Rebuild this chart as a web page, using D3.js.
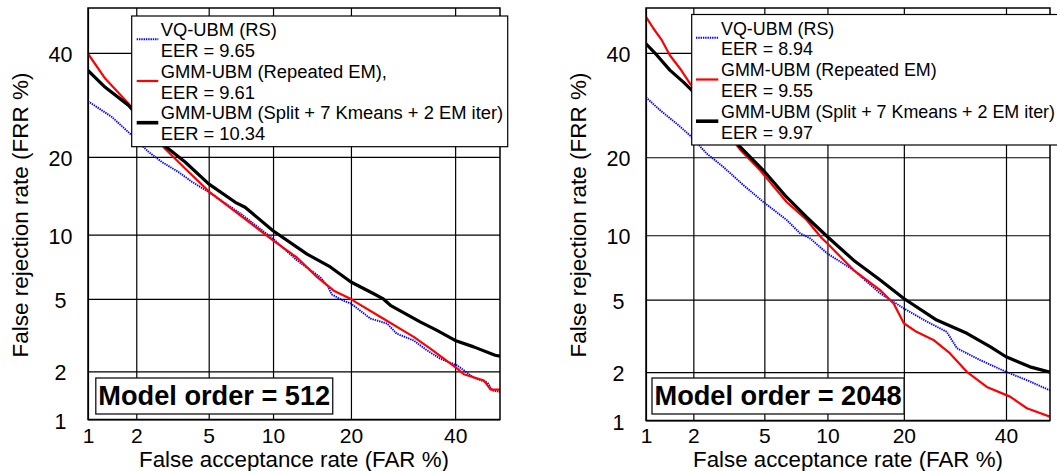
<!DOCTYPE html>
<html>
<head>
<meta charset="utf-8">
<script src="https://cdn.jsdelivr.net/npm/d3@7"></script>
<style>
  html, body { margin: 0; padding: 0; background: #fff; }
  svg { display: block; font-family: "Liberation Sans", Arial, Helvetica, sans-serif; }
</style>
</head>
<body>
<svg id="chart" width="1057" height="471"></svg>
<script>
// ---------------- DATA (percent values: [FAR %, FRR %]) ----------------
const tickValues = [1, 2, 5, 10, 20, 40];
const tickLabels = ["1", "2", "5", "10", "20", "40"];
const axisMin = 1, axisMax = 50;

const xTitle = "False acceptance rate (FAR %)";
const yTitle = "False rejection rate (FRR %)";
const panelTitles = ["Model order = 512", "Model order = 2048"];

const seriesNames512 = ["VQ-UBM (RS)", "GMM-UBM (Repeated EM),", "GMM-UBM (Split + 7 Kmeans + 2 EM iter)"];
const seriesNames2048 = ["VQ-UBM (RS)", "GMM-UBM (Repeated EM)", "GMM-UBM (Split + 7 Kmeans + 2 EM iter)"];
const eer512 = [9.65, 9.61, 10.34];
const eer2048 = [8.94, 9.55, 9.97];

const vq512 = [[1.0,29.9],[1.42,26.9],[1.83,23.9],[2.36,20.8],[2.81,19.2],[3.47,17.7],[4.09,16.3],[5.0,14.9],[7.2,12.2],[10,9.6],[12.6,7.67],[15.5,6.41],[16.6,5.74],[17.1,5.27],[18.8,4.9],[20,4.74],[23.2,3.96],[24.3,3.87],[26.2,3.72],[28,3.28],[31.3,3.01],[34,2.65],[36.8,2.37],[40.4,2.17],[44.1,1.83],[47.2,1.71],[48.3,1.53],[50,1.5]];
const rem512 = [[1.0,39.8],[1.29,34.5],[1.8,29.4],[2.93,21.3],[3.77,18.2],[5.0,15.0],[7.0,12.2],[10,9.45],[12.6,7.9],[15.1,6.41],[17.4,5.5],[20,5.0],[20.7,4.83],[25,4.03],[31.3,3.15],[34.7,2.71],[40.4,2.08],[41.9,1.92],[46.4,1.76],[47.9,1.55],[50,1.55]];
const split512 = [[1.0,36.2],[1.29,32.7],[1.8,29.1],[2.81,22.2],[3.77,19.2],[5.0,16.0],[6.75,13.6],[7.5,13.0],[10,10.4],[13.8,8.2],[16.9,7.16],[20,6.07],[23.8,5.31],[25.5,5.0],[26.8,4.64],[32.6,3.8],[36.1,3.42],[40,3.01],[44.1,2.77],[48.9,2.48],[50,2.45]];

const vq2048 = [[1.0,30.7],[1.24,28.2],[1.58,25.7],[1.91,23.6],[2.4,20.6],[3.0,18.5],[3.87,15.9],[4.94,13.7],[6.47,11.6],[7.5,10.2],[8.35,9.7],[10,8.3],[12.9,6.97],[16.4,5.38],[20,4.51],[23.9,3.85],[27.6,3.39],[29.6,2.75],[34.3,2.36],[40,2.01],[45.4,1.76],[50,1.55]];
const rem2048 = [[1.0,48.0],[1.12,45.4],[1.27,42.8],[1.43,39.5],[1.66,36.6],[1.91,33.5],[3.7,21.3],[4.75,18.0],[6.47,13.7],[8.06,11.6],[9.45,9.7],[10,9.2],[12.9,6.97],[16.4,5.58],[18.4,4.78],[20,3.77],[22.1,3.39],[25.1,3.06],[28.2,2.58],[31.6,2.01],[35.8,1.63],[40.9,1.42],[44.7,1.2],[50,1.06]];
const split2048 = [[1.0,42.0],[1.18,39.5],[1.43,36.3],[1.74,33.8],[1.96,32.1],[3.71,21.7],[4.94,18.0],[6.47,14.3],[8.06,11.9],[10,9.85],[12.9,7.75],[16.4,6.25],[20,5.07],[25.7,3.92],[31.6,3.33],[36.5,2.81],[40,2.46],[45.4,2.15],[50,2.0]];

// ---------------- helpers ----------------
// inverse standard normal CDF (Acklam) for the DET (normal deviate) scale
function probit(p) {
  const a=[-3.969683028665376e+01,2.209460984245205e+02,-2.759285104469687e+02,1.383577518672690e+02,-3.066479806614716e+01,2.506628277459239e+00];
  const b=[-5.447609879822406e+01,1.615858368580409e+02,-1.556989798598866e+02,6.680131188771972e+01,-1.328068155288572e+01];
  const c=[-7.784894002430293e-03,-3.223964580411365e-01,-2.400758277161838e+00,-2.549671323240000e+00,4.374664141464968e+00,2.938163982698783e+00];
  const d=[7.784695709041462e-03,3.224671290700398e-01,2.445134137142996e+00,3.754408661907416e+00];
  const pl = 0.02425, ph = 1 - pl;
  let q, r;
  if (p < pl) { q = Math.sqrt(-2*Math.log(p)); return (((((c[0]*q+c[1])*q+c[2])*q+c[3])*q+c[4])*q+c[5])/((((d[0]*q+d[1])*q+d[2])*q+d[3])*q+1); }
  if (p <= ph) { q = p - 0.5; r = q*q; return (((((a[0]*r+a[1])*r+a[2])*r+a[3])*r+a[4])*r+a[5])*q/(((((b[0]*r+b[1])*r+b[2])*r+b[3])*r+b[4])*r+1); }
  q = Math.sqrt(-2*Math.log(1-p)); return -(((((c[0]*q+c[1])*q+c[2])*q+c[3])*q+c[4])*q+c[5])/((((d[0]*q+d[1])*q+d[2])*q+d[3])*q+1);
}
const pz = v => probit(v / 100);

const styles = [
  { color: "#0000ff", width: 1.9, dash: "1.4,0.9", legW: 1.9 },
  { color: "#ff0000", width: 2.2, dash: null, legW: 2.2 },
  { color: "#000000", width: 3.2, dash: null, legW: 3.6 }
];

const panels = [
  { curves: [vq512, rem512, split512], names: seriesNames512, eers: eer512, title: panelTitles[0],
    x0: 88, x1: 500, y0: 8, y1: 419.5, legX: 131.7, legY: 16, legW: 376, legH: 130.7, legFont: 18.35,
    sampleX0: 136.7, sampleX1: 158.3, legTextX: 160.7, boxTextX: 98.3, yLabX: 60.5, yTitleX: 27.5 },
  { curves: [vq2048, rem2048, split2048], names: seriesNames2048, eers: eer2048, title: panelTitles[1],
    x0: 646, x1: 1050, y0: 8, y1: 420.5, legX: 691.7, legY: 14.5, legW: 380, legH: 130.5, legFont: 17.9,
    sampleX0: 696, sampleX1: 718.3, legTextX: 721, boxTextX: 654.5, yLabX: 618.5, yTitleX: 585.5 }
];

const svg = d3.select("#chart");
svg.append("rect").attr("width", 1057).attr("height", 471).attr("fill", "#fff");

panels.forEach((P, pi) => {
  const xs = d3.scaleLinear().domain([pz(axisMin), pz(axisMax)]).range([P.x0, P.x1]);
  const ys = d3.scaleLinear().domain([pz(axisMin), pz(axisMax)]).range([P.y1, P.y0]);
  const g = svg.append("g");
  const h = P.y1 - P.y0, w = P.x1 - P.x0;

  const clipId = "clip" + pi;
  g.append("clipPath").attr("id", clipId).append("rect")
    .attr("x", P.x0).attr("y", P.y0).attr("width", w).attr("height", h);

  // X axis with grid
  const xAxis = g.append("g").attr("transform", `translate(0,${P.y1})`)
    .call(d3.axisBottom(xs).tickValues(tickValues.map(pz))
      .tickFormat((d, i) => tickLabels[i]).tickSizeInner(-h).tickSizeOuter(0).tickPadding(8.2 - (P.y1 - 419.5)));
  xAxis.select(".domain").remove();
  xAxis.selectAll("line").attr("stroke", "#000").attr("stroke-width", 1.2);
  xAxis.selectAll("text").attr("font-size", 21).attr("fill", "#000")
    .attr("font-family", "Liberation Sans, Arial, sans-serif");

  // Y axis with grid
  const yAxis = g.append("g").attr("transform", `translate(${P.x0},0)`)
    .call(d3.axisLeft(ys).tickValues(tickValues.map(pz))
      .tickFormat((d, i) => tickLabels[i]).tickSizeInner(-w).tickSizeOuter(0));
  yAxis.select(".domain").remove();
  yAxis.selectAll("line").attr("stroke", "#000").attr("stroke-width", 1.2);
  yAxis.selectAll("text").attr("font-size", 21.5).attr("fill", "#000")
    .attr("font-family", "Liberation Sans, Arial, sans-serif")
    .attr("text-anchor", "middle").attr("x", P.yLabX - P.x0).attr("dy", "0.4em");

  // curves
  const line = d3.line().x(d => xs(pz(d[0]))).y(d => ys(pz(d[1])));
  const cg = g.append("g").attr("clip-path", `url(#${clipId})`);
  P.curves.forEach((data, i) => {
    const s = styles[i];
    const path = cg.append("path").datum(data).attr("d", line)
      .attr("fill", "none").attr("stroke", s.color).attr("stroke-width", s.width)
      .attr("stroke-linejoin", "round");
    if (s.dash) path.attr("stroke-dasharray", s.dash);
  });

  // border
  g.append("rect").attr("x", P.x0).attr("y", P.y0).attr("width", w).attr("height", h)
    .attr("fill", "none").attr("stroke", "#000").attr("stroke-width", 1.5);

  // legend
  const lg = g.append("g");
  lg.append("rect").attr("x", P.legX).attr("y", P.legY).attr("width", P.legW).attr("height", P.legH)
    .attr("fill", "#fff").attr("stroke", "#000").attr("stroke-width", 1.2);
  const base0 = P.legY + 20, step = 20.85;
  P.names.forEach((name, i) => {
    const s = styles[i];
    const b1 = base0 + step * 2 * i;
    const sl = lg.append("line").attr("x1", P.sampleX0).attr("x2", P.sampleX1)
      .attr("y1", b1 + 3.3).attr("y2", b1 + 3.3)
      .attr("stroke", s.color).attr("stroke-width", s.legW);
    if (s.dash) sl.attr("stroke-dasharray", s.dash);
    lg.append("text").attr("x", P.legTextX).attr("y", b1).attr("font-size", P.legFont).text(name);
    lg.append("text").attr("x", P.legTextX).attr("y", b1 + step).attr("font-size", P.legFont)
      .text("EER = " + P.eers[i].toFixed(2));
  });

  // model order box
  const bg = g.append("g");
  const boxRect = bg.append("rect");
  const bt = bg.append("text").attr("x", P.boxTextX).attr("y", 405)
    .attr("font-size", 27.2).attr("font-weight", "bold").text(P.title);
  const bb = bt.node().getBBox();
  boxRect.attr("x", bb.x - 2.5).attr("y", 378).attr("width", bb.width + 5).attr("height", 36)
    .attr("fill", "#fff").attr("stroke", "#111").attr("stroke-width", 1.3);

  // axis titles
  g.append("text").attr("x", (P.x0 + P.x1) / 2).attr("y", 466.5).attr("text-anchor", "middle")
    .attr("font-size", 22.3).text(xTitle);
  g.append("text").attr("transform", `translate(${P.yTitleX},215) rotate(-90)`)
    .attr("text-anchor", "middle").attr("font-size", 22.5).text(yTitle);
});
</script>
</body>
</html>
